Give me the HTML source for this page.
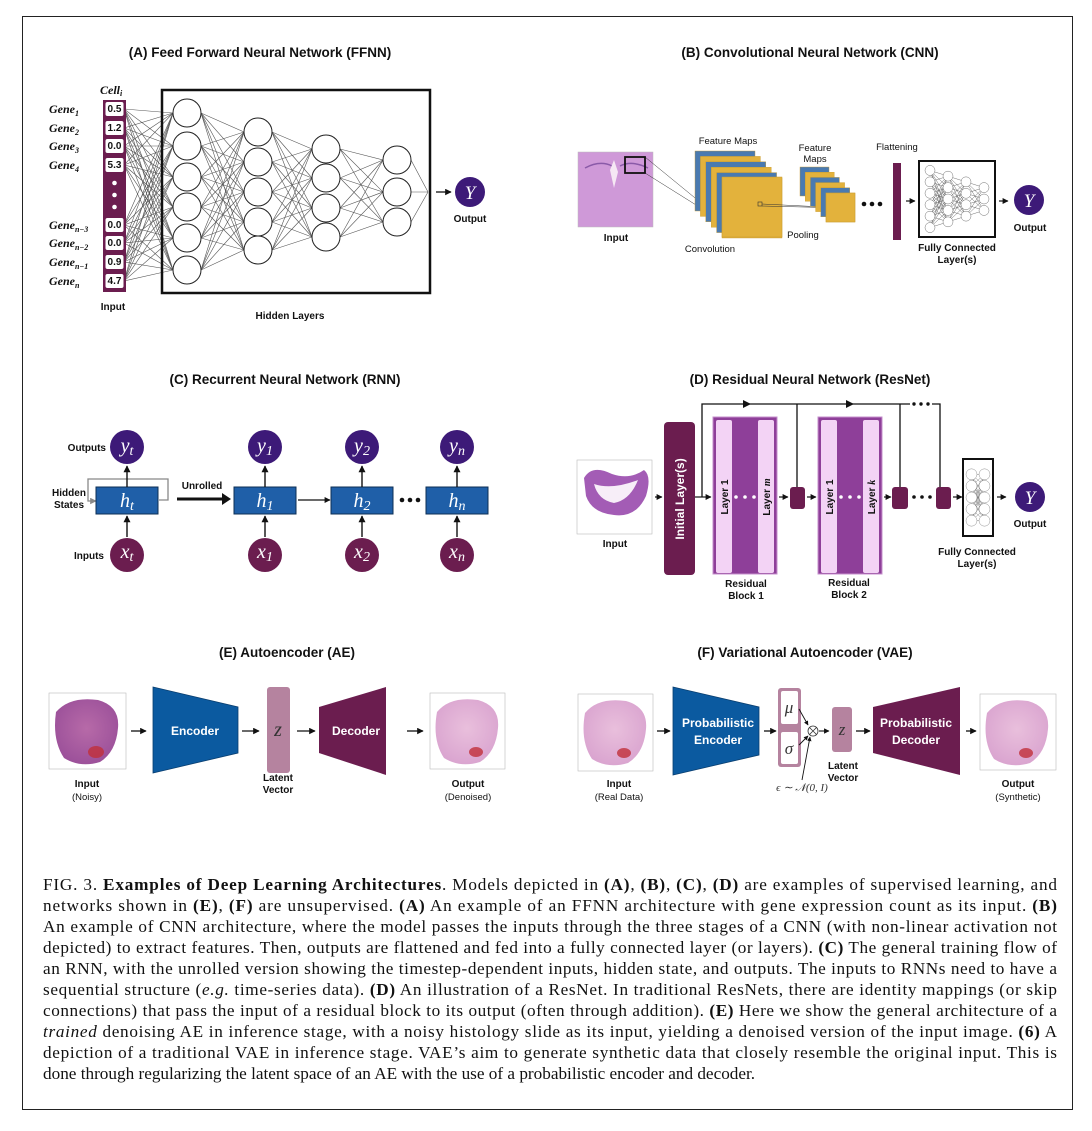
<!DOCTYPE html>
<html><head><meta charset="utf-8"><style>
html,body{margin:0;padding:0;background:#fff}
svg{display:block}
.t{font-family:"Liberation Sans",sans-serif;font-weight:bold;font-size:13.5px;fill:#111}
.l{font-family:"Liberation Sans",sans-serif;font-weight:bold;font-size:10px;fill:#111}
.n{font-family:"Liberation Sans",sans-serif;font-size:9.5px;fill:#111}
.g{font-family:"Liberation Serif",serif;font-weight:bold;font-style:italic;font-size:12px;fill:#111}
.m{font-family:"Liberation Serif",serif;font-style:italic;fill:#fff}
.c{font-family:"Liberation Serif",serif;font-size:17.2px;fill:#111}
.w{font-family:"Liberation Sans",sans-serif;font-weight:bold;font-size:12px;fill:#fff}
</style></head><body>
<svg id="s" width="1092" height="1131" viewBox="0 0 1092 1131" xmlns="http://www.w3.org/2000/svg">
<defs>
<marker id="ar" viewBox="0 0 10 10" refX="9" refY="5" markerWidth="5" markerHeight="5" orient="auto"><path d="M0,0L10,5L0,10z" fill="#111"/></marker>
<marker id="ag" viewBox="0 0 10 10" refX="9" refY="5" markerWidth="5" markerHeight="5" orient="auto"><path d="M0,0L10,5L0,10z" fill="#888"/></marker>
<radialGradient id="hist" cx="50%" cy="45%" r="60%"><stop offset="0" stop-color="#e9bfdc"/><stop offset="1" stop-color="#d9a3cf"/></radialGradient>
<radialGradient id="noisy" cx="50%" cy="45%" r="60%"><stop offset="0" stop-color="#b76aa8"/><stop offset="1" stop-color="#9a4f99"/></radialGradient>
</defs>
<rect x="22.5" y="16.5" width="1050" height="1093" fill="none" stroke="#222" stroke-width="1"/>

<!-- Panel A -->
<text class="t" x="260" y="57" text-anchor="middle">(A) Feed Forward Neural Network (FFNN)</text>
<g id="ffnnLines" stroke="#555" stroke-width="0.6"></g>
<rect x="162" y="90" width="268" height="203" fill="none" stroke="#111" stroke-width="2.5"/>
<g id="ffnnNodes" fill="#fff" stroke="#222" stroke-width="1"></g>
<text class="g" x="100" y="94" font-size="12">Cell<tspan font-size="8" dy="2">i</tspan></text>
<rect x="103" y="100" width="23" height="192" fill="#6b1d4f"/>
<g id="vals"></g>
<g id="genes"></g>
<line x1="436" y1="192" x2="451" y2="192" stroke="#111" stroke-width="1.3" marker-end="url(#ar)"/>
<circle cx="470" cy="192" r="15" fill="#3d1a78"/>
<text class="m" x="470" y="199" font-size="19" text-anchor="middle">Y</text>
<text class="l" x="470" y="222" text-anchor="middle">Output</text>
<text class="l" x="113" y="310" text-anchor="middle">Input</text>
<text class="l" x="290" y="319" text-anchor="middle">Hidden Layers</text>

<!-- Panel B -->
<text class="t" x="810" y="57" text-anchor="middle">(B) Convolutional Neural Network (CNN)</text>
<rect x="578" y="152" width="75" height="75" fill="#cf99d8" stroke="#bbb" stroke-width="0.5"/>
<path d="M585,168 Q600,160 612,166 M620,166 Q632,160 648,168" stroke="#8a5aa8" fill="none" stroke-width="1.5"/>
<path d="M610,170 L614,160 L618,172 L614,188z" fill="#f6e8f4"/>
<line x1="645" y1="157" x2="722" y2="220" stroke="#333" stroke-width="0.5"/>
<line x1="645" y1="173" x2="728" y2="225" stroke="#333" stroke-width="0.5"/>
<g id="fm1"></g>
<rect x="625" y="157" width="20" height="16" fill="none" stroke="#111" stroke-width="1.8"/>
<rect x="758" y="202" width="4" height="4" fill="none" stroke="#333" stroke-width="0.6"/>
<line x1="762" y1="204" x2="845" y2="208" stroke="#333" stroke-width="0.5"/>
<line x1="762" y1="206" x2="845" y2="208" stroke="#333" stroke-width="0.5"/>
<g id="fm2"></g>
<text class="n" x="728" y="144" text-anchor="middle">Feature Maps</text>
<text class="n" x="815" y="151" text-anchor="middle">Feature</text>
<text class="n" x="815" y="162" text-anchor="middle">Maps</text>
<text class="n" x="710" y="252" text-anchor="middle">Convolution</text>
<text class="n" x="803" y="238" text-anchor="middle">Pooling</text>
<text class="n" x="897" y="150" text-anchor="middle">Flattening</text>
<circle cx="864" cy="204" r="2.3" fill="#111"/><circle cx="872" cy="204" r="2.3" fill="#111"/><circle cx="880" cy="204" r="2.3" fill="#111"/>
<rect x="893" y="163" width="8" height="77" fill="#6b1d4f"/>
<line x1="906" y1="201" x2="915" y2="201" stroke="#111" stroke-width="1.2" marker-end="url(#ar)"/>
<g id="fcB" stroke="#333" stroke-width="0.35" fill="#fff"></g>
<rect x="919" y="161" width="76" height="76" fill="none" stroke="#111" stroke-width="2"/>
<line x1="999" y1="201" x2="1008" y2="201" stroke="#111" stroke-width="1.2" marker-end="url(#ar)"/>
<circle cx="1029" cy="200" r="15" fill="#3d1a78"/>
<text class="m" x="1029" y="207" font-size="19" text-anchor="middle">Y</text>
<text class="l" x="1030" y="231" text-anchor="middle">Output</text>
<text class="l" x="616" y="241" text-anchor="middle">Input</text>
<text class="l" x="957" y="251" text-anchor="middle">Fully Connected</text>
<text class="l" x="957" y="263" text-anchor="middle">Layer(s)</text>

<!-- Panel C -->
<text class="t" x="285" y="384" text-anchor="middle">(C) Recurrent Neural Network (RNN)</text>
<text class="l" x="106" y="451" text-anchor="end">Outputs</text>
<text class="l" x="69" y="496" text-anchor="middle">Hidden</text>
<text class="l" x="69" y="508" text-anchor="middle">States</text>
<text class="l" x="104" y="559" text-anchor="end">Inputs</text>
<path d="M159,500 L168,500 L168,479 L88,479 L88,501 L96,501" fill="none" stroke="#888" stroke-width="1.3" marker-end="url(#ag)"/>
<line x1="177" y1="499" x2="224" y2="499" stroke="#111" stroke-width="3"/>
<path d="M222,493 L231,499 L222,505z" fill="#111"/>
<text class="l" x="202" y="489" text-anchor="middle">Unrolled</text>
<g id="rnn"></g>
<line x1="298" y1="500" x2="330" y2="500" stroke="#111" stroke-width="1.2" marker-end="url(#ar)"/>
<circle cx="402" cy="500" r="2.3" fill="#111"/><circle cx="410" cy="500" r="2.3" fill="#111"/><circle cx="418" cy="500" r="2.3" fill="#111"/>

<!-- Panel D -->
<text class="t" x="810" y="384" text-anchor="middle">(D) Residual Neural Network (ResNet)</text>
<rect x="577" y="460" width="75" height="74" fill="#fff" stroke="#bbb" stroke-width="0.6"/>
<path d="M584,478 Q592,464 612,474 Q630,480 644,470 Q652,476 646,496 Q636,518 614,515 Q592,513 586,496z" fill="#a35cb5"/>
<path d="M594,484 Q612,490 638,480 Q630,500 614,503 Q598,500 594,484z" fill="#f7eef8"/>
<text class="l" x="615" y="547" text-anchor="middle">Input</text>
<line x1="655" y1="497" x2="662" y2="497" stroke="#111" stroke-width="1.2" marker-end="url(#ar)"/>
<rect x="664" y="422" width="31" height="153" rx="4" fill="#6b1d4f"/>
<text class="w" transform="translate(684,499) rotate(-90)" text-anchor="middle" font-size="11">Initial Layer(s)</text>
<path d="M695,497 L711,497" stroke="#111" stroke-width="1.2" marker-end="url(#ar)"/>
<path d="M702,497 L702,404 L910,404 M932,404 L940,404 L940,487" fill="none" stroke="#111" stroke-width="1.3"/>
<path d="M743,400 L751,404 L743,408z" fill="#111"/><path d="M846,400 L854,404 L846,408z" fill="#111"/>
<circle cx="914" cy="404" r="1.7" fill="#111"/><circle cx="921" cy="404" r="1.7" fill="#111"/><circle cx="928" cy="404" r="1.7" fill="#111"/>
<line x1="797" y1="404" x2="797" y2="487" stroke="#111" stroke-width="1.3"/>
<line x1="900" y1="404" x2="900" y2="487" stroke="#111" stroke-width="1.3"/>
<rect x="713" y="417" width="64" height="157" fill="#8e3f99" stroke="#c58fcc" stroke-width="1"/>
<rect x="716" y="420" width="16" height="153" rx="2" fill="#f3d3f5"/><rect x="758" y="420" width="16" height="153" rx="2" fill="#f3d3f5"/>
<text class="l" transform="translate(728,497) rotate(-90)" text-anchor="middle" font-size="10">Layer 1</text>
<text class="l" transform="translate(770,497) rotate(-90)" text-anchor="middle" font-size="10">Layer <tspan font-family="Liberation Serif" font-style="italic">m</tspan></text>
<circle cx="736" cy="497" r="1.8" fill="#fff"/><circle cx="745" cy="497" r="1.8" fill="#fff"/><circle cx="754" cy="497" r="1.8" fill="#fff"/>
<line x1="779" y1="497" x2="788" y2="497" stroke="#111" stroke-width="1.2" marker-end="url(#ar)"/>
<rect x="790" y="487" width="15" height="22" rx="3" fill="#6b1d4f"/>
<line x1="807" y1="497" x2="816" y2="497" stroke="#111" stroke-width="1.2" marker-end="url(#ar)"/>
<rect x="818" y="417" width="64" height="157" fill="#8e3f99" stroke="#c58fcc" stroke-width="1"/>
<rect x="821" y="420" width="16" height="153" rx="2" fill="#f3d3f5"/><rect x="863" y="420" width="16" height="153" rx="2" fill="#f3d3f5"/>
<text class="l" transform="translate(833,497) rotate(-90)" text-anchor="middle" font-size="10">Layer 1</text>
<text class="l" transform="translate(875,497) rotate(-90)" text-anchor="middle" font-size="10">Layer <tspan font-family="Liberation Serif" font-style="italic">k</tspan></text>
<circle cx="841" cy="497" r="1.8" fill="#fff"/><circle cx="850" cy="497" r="1.8" fill="#fff"/><circle cx="859" cy="497" r="1.8" fill="#fff"/>
<line x1="884" y1="497" x2="891" y2="497" stroke="#111" stroke-width="1.2" marker-end="url(#ar)"/>
<rect x="892" y="487" width="16" height="22" rx="3" fill="#6b1d4f"/>
<circle cx="914" cy="497" r="1.8" fill="#111"/><circle cx="922" cy="497" r="1.8" fill="#111"/><circle cx="930" cy="497" r="1.8" fill="#111"/>
<rect x="936" y="487" width="15" height="22" rx="3" fill="#6b1d4f"/>
<line x1="953" y1="497" x2="962" y2="497" stroke="#111" stroke-width="1.2" marker-end="url(#ar)"/>
<g id="fcD" stroke="#444" stroke-width="0.3" fill="#fff"></g>
<rect x="963" y="459" width="30" height="77" fill="none" stroke="#111" stroke-width="2"/>
<line x1="997" y1="497" x2="1006" y2="497" stroke="#111" stroke-width="1.2" marker-end="url(#ar)"/>
<circle cx="1030" cy="497" r="15" fill="#3d1a78"/>
<text class="m" x="1030" y="504" font-size="19" text-anchor="middle">Y</text>
<text class="l" x="1030" y="527" text-anchor="middle">Output</text>
<text class="l" x="977" y="555" text-anchor="middle">Fully Connected</text>
<text class="l" x="977" y="567" text-anchor="middle">Layer(s)</text>
<text class="l" x="746" y="587" text-anchor="middle">Residual</text>
<text class="l" x="746" y="599" text-anchor="middle">Block 1</text>
<text class="l" x="849" y="586" text-anchor="middle">Residual</text>
<text class="l" x="849" y="598" text-anchor="middle">Block 2</text>

<!-- Panel E -->
<text class="t" x="287" y="657" text-anchor="middle">(E) Autoencoder (AE)</text>
<rect x="49" y="693" width="77" height="76" fill="#fff" stroke="#bbb" stroke-width="0.6"/>
<path d="M56,712 Q70,696 98,700 Q120,706 118,728 Q116,752 100,762 Q80,768 64,758 Q52,740 56,712z" fill="url(#noisy)"/>
<ellipse cx="96" cy="752" rx="8" ry="6" fill="#c0303a" opacity="0.8"/>
<line x1="131" y1="731" x2="146" y2="731" stroke="#111" stroke-width="1.3" marker-end="url(#ar)"/>
<path d="M153,687 L238,707 L238,753 L153,773z" fill="#0b5aa0" stroke="#0a3f70" stroke-width="0.8"/>
<text class="w" x="195" y="735" text-anchor="middle">Encoder</text>
<line x1="242" y1="731" x2="259" y2="731" stroke="#111" stroke-width="1.3" marker-end="url(#ar)"/>
<rect x="267" y="687" width="23" height="86" rx="3" fill="#b5839f"/>
<text x="278" y="736" font-family="Liberation Serif" font-style="italic" font-size="20" fill="#333" text-anchor="middle">z</text>
<text class="l" x="278" y="781" text-anchor="middle">Latent</text>
<text class="l" x="278" y="793" text-anchor="middle">Vector</text>
<line x1="297" y1="731" x2="315" y2="731" stroke="#111" stroke-width="1.3" marker-end="url(#ar)"/>
<path d="M319,707 L386,687 L386,775 L319,753z" fill="#6b1d4f"/>
<text class="w" x="356" y="735" text-anchor="middle">Decoder</text>
<line x1="407" y1="731" x2="423" y2="731" stroke="#111" stroke-width="1.3" marker-end="url(#ar)"/>
<rect x="430" y="693" width="75" height="76" fill="#fff" stroke="#bbb" stroke-width="0.6"/>
<path d="M437,712 Q450,696 478,700 Q500,706 498,728 Q496,752 480,762 Q460,768 444,758 Q432,740 437,712z" fill="url(#hist)"/>
<ellipse cx="476" cy="752" rx="7" ry="5" fill="#c0303a" opacity="0.8"/>
<text class="l" x="87" y="787" text-anchor="middle">Input</text>
<text class="n" x="87" y="800" text-anchor="middle">(Noisy)</text>
<text class="l" x="468" y="787" text-anchor="middle">Output</text>
<text class="n" x="468" y="800" text-anchor="middle">(Denoised)</text>

<!-- Panel F -->
<text class="t" x="805" y="657" text-anchor="middle">(F) Variational Autoencoder (VAE)</text>
<rect x="578" y="694" width="75" height="77" fill="#fff" stroke="#bbb" stroke-width="0.6"/>
<path d="M585,713 Q598,697 626,701 Q648,707 646,729 Q644,753 628,763 Q608,769 592,759 Q580,741 585,713z" fill="url(#hist)"/>
<ellipse cx="624" cy="753" rx="7" ry="5" fill="#c0303a" opacity="0.8"/>
<line x1="657" y1="731" x2="670" y2="731" stroke="#111" stroke-width="1.3" marker-end="url(#ar)"/>
<path d="M673,687 L759,707 L759,755 L673,775z" fill="#0b5aa0" stroke="#0a3f70" stroke-width="0.8"/>
<text class="w" x="718" y="727" text-anchor="middle">Probabilistic</text>
<text class="w" x="718" y="744" text-anchor="middle">Encoder</text>
<line x1="764" y1="731" x2="776" y2="731" stroke="#111" stroke-width="1.3" marker-end="url(#ar)"/>
<rect x="778" y="688" width="23" height="79" rx="3" fill="#b5839f"/>
<rect x="781" y="691" width="17" height="33" rx="2" fill="#fff"/>
<rect x="781" y="732" width="17" height="32" rx="2" fill="#fff"/>
<text x="789" y="713" font-family="Liberation Serif" font-style="italic" font-size="17" fill="#333" text-anchor="middle">μ</text>
<text x="789" y="754" font-family="Liberation Serif" font-style="italic" font-size="17" fill="#333" text-anchor="middle">σ</text>
<line x1="799" y1="709" x2="808" y2="725" stroke="#111" stroke-width="0.9" marker-end="url(#ar)"/>
<line x1="799" y1="745" x2="808" y2="736" stroke="#111" stroke-width="0.9" marker-end="url(#ar)"/>
<line x1="802" y1="780" x2="810" y2="737" stroke="#111" stroke-width="0.9" marker-end="url(#ar)"/>
<circle cx="813" cy="731" r="5" fill="#fff" stroke="#333" stroke-width="0.8"/>
<path d="M809.5,727.5L816.5,734.5M816.5,727.5L809.5,734.5" stroke="#333" stroke-width="0.8"/>
<line x1="819" y1="731" x2="829" y2="731" stroke="#111" stroke-width="1.1" marker-end="url(#ar)"/>
<rect x="832" y="707" width="20" height="45" rx="3" fill="#b5839f"/>
<text x="842" y="735" font-family="Liberation Serif" font-style="italic" font-size="17" fill="#333" text-anchor="middle">z</text>
<text x="802" y="791" font-family="Liberation Serif" font-style="italic" font-size="11" fill="#333" text-anchor="middle">ϵ ∼ 𝒩(0, I)</text>
<text class="l" x="843" y="769" text-anchor="middle">Latent</text>
<text class="l" x="843" y="781" text-anchor="middle">Vector</text>
<line x1="856" y1="731" x2="870" y2="731" stroke="#111" stroke-width="1.3" marker-end="url(#ar)"/>
<path d="M873,707 L960,687 L960,775 L873,753z" fill="#6b1d4f"/>
<text class="w" x="916" y="727" text-anchor="middle">Probabilistic</text>
<text class="w" x="916" y="744" text-anchor="middle">Decoder</text>
<line x1="966" y1="731" x2="976" y2="731" stroke="#111" stroke-width="1.3" marker-end="url(#ar)"/>
<rect x="980" y="694" width="76" height="76" fill="#fff" stroke="#bbb" stroke-width="0.6"/>
<path d="M987,713 Q1000,697 1028,701 Q1050,707 1048,729 Q1046,753 1030,763 Q1010,769 994,759 Q982,741 987,713z" fill="url(#hist)"/>
<ellipse cx="1026" cy="753" rx="7" ry="5" fill="#c0303a" opacity="0.8"/>
<text class="l" x="619" y="787" text-anchor="middle">Input</text>
<text class="n" x="619" y="800" text-anchor="middle">(Real Data)</text>
<text class="l" x="1018" y="787" text-anchor="middle">Output</text>
<text class="n" x="1018" y="800" text-anchor="middle">(Synthetic)</text>

<!-- Caption -->
<g class="c">
<text x="43" y="890" textLength="1014" lengthAdjust="spacing">FIG. 3.  <tspan font-weight="bold">Examples of Deep Learning Architectures</tspan>.  Models depicted in <tspan font-weight="bold">(A)</tspan>, <tspan font-weight="bold">(B)</tspan>, <tspan font-weight="bold">(C)</tspan>, <tspan font-weight="bold">(D)</tspan> are examples of supervised learning, and</text>
<text x="43" y="911" textLength="1014" lengthAdjust="spacing">networks shown in <tspan font-weight="bold">(E)</tspan>, <tspan font-weight="bold">(F)</tspan> are unsupervised.  <tspan font-weight="bold">(A)</tspan> An example of an FFNN architecture with gene expression count as its input.  <tspan font-weight="bold">(B)</tspan></text>
<text x="43" y="932" textLength="1014" lengthAdjust="spacing">An example of CNN architecture, where the model passes the inputs through the three stages of a CNN (with non-linear activation not</text>
<text x="43" y="953" textLength="1014" lengthAdjust="spacing">depicted) to extract features. Then, outputs are flattened and fed into a fully connected layer (or layers). <tspan font-weight="bold">(C)</tspan> The general training flow of</text>
<text x="43" y="974" textLength="1014" lengthAdjust="spacing">an RNN, with the unrolled version showing the timestep-dependent inputs, hidden state, and outputs. The inputs to RNNs need to have a</text>
<text x="43" y="995" textLength="1014" lengthAdjust="spacing">sequential structure (<tspan font-style="italic">e.g.</tspan> time-series data). <tspan font-weight="bold">(D)</tspan> An illustration of a ResNet. In traditional ResNets, there are identity mappings (or skip</text>
<text x="43" y="1016" textLength="1014" lengthAdjust="spacing">connections) that pass the input of a residual block to its output (often through addition). <tspan font-weight="bold">(E)</tspan> Here we show the general architecture of a</text>
<text x="43" y="1037" textLength="1014" lengthAdjust="spacing"><tspan font-style="italic">trained</tspan> denoising AE in inference stage, with a noisy histology slide as its input, yielding a denoised version of the input image. <tspan font-weight="bold">(6)</tspan> A</text>
<text x="43" y="1058" textLength="1014" lengthAdjust="spacing">depiction of a traditional VAE in inference stage. VAE’s aim to generate synthetic data that closely resemble the original input. This is</text>
<text x="43" y="1079">done through regularizing the latent space of an AE with the use of a probabilistic encoder and decoder.</text>
</g>
</svg>
<script>
(function(){
var NS="http://www.w3.org/2000/svg";
function el(p,tag,a,txt){var e=document.createElementNS(NS,tag);for(var k in a)e.setAttribute(k,a[k]);if(txt!=null)e.textContent=txt;document.getElementById(p).appendChild(e);return e;}
var inY=[109,128,146,165,225,243,262,281];
var L=[{x:187,y:[113,146,177,207,238,270]},{x:258,y:[132,162,192,222,250]},{x:326,y:[149,178,208,237]},{x:397,y:[160,192,222]}];
var r=14;
inY.forEach(function(y){L[0].y.forEach(function(y2){el("ffnnLines","line",{x1:124,y1:y,x2:L[0].x-r,y2:y2});});});
for(var i=0;i<3;i++){L[i].y.forEach(function(a){L[i+1].y.forEach(function(b){el("ffnnLines","line",{x1:L[i].x+r,y1:a,x2:L[i+1].x-r,y2:b});});});}
L[3].y.forEach(function(a){el("ffnnLines","line",{x1:L[3].x+r,y1:a,x2:428,y2:192});});
L.forEach(function(l){l.y.forEach(function(y){el("ffnnNodes","circle",{cx:l.x,cy:y,r:r});});});
var vals=["0.5","1.2","0.0","5.3","0.0","0.0","0.9","4.7"];
inY.forEach(function(y,i){el("vals","rect",{x:105.5,y:y-7,width:18,height:14,rx:2,fill:"#fff"});el("vals","text",{x:114.5,y:y+3,"text-anchor":"middle","class":"l","font-size":"8"},vals[i]);});
[183,195,207].forEach(function(y){el("vals","circle",{cx:114.5,cy:y,r:2.3,fill:"#fff"});});
var subs=["1","2","3","4","n−3","n−2","n−1","n"];
inY.forEach(function(y,i){var t=el("genes","text",{x:49,y:y+4,"class":"g"},"Gene");var s=document.createElementNS(NS,"tspan");s.setAttribute("font-size","8");s.setAttribute("dy","3");s.textContent=subs[i];t.appendChild(s);});
var cols=["#4a7ab0","#e3b23c"];
for(var k=0;k<6;k++){var d=k*5.4;el("fm1","rect",{x:695+d,y:151+d,width:60,height:60,fill:cols[k%2],stroke:"#c99a2e","stroke-width":0.4});}
el("fm1","rect",{x:722,y:177,width:60,height:60,fill:"#e3b23c",stroke:"#c99a2e","stroke-width":0.5});
for(var k=0;k<6;k++){var d=k*5.2;el("fm2","rect",{x:800+d,y:167+d,width:29,height:29,fill:cols[k%2],stroke:"#c99a2e","stroke-width":0.4});}
el("fm2","rect",{x:826,y:193,width:29,height:29,fill:"#e3b23c",stroke:"#c99a2e","stroke-width":0.5});
function fc(g,x0,w,y0,h,layers,rr){var n=layers.length;var xs=[];for(var i=0;i<n;i++)xs.push(x0+w*(i+0.5)/n);var ys=layers.map(function(c){var a=[];var sp=h/6.3;for(var j=0;j<c;j++)a.push(y0+h/2+(j-(c-1)/2)*sp);return a;});
for(var i=0;i<n-1;i++)ys[i].forEach(function(a){ys[i+1].forEach(function(b){el(g,"line",{x1:xs[i],y1:a,x2:xs[i+1],y2:b});});});
ys.forEach(function(a,i){a.forEach(function(y){el(g,"circle",{cx:xs[i],cy:y,r:rr});});});}
fc("fcB",921,72,163,72,[6,5,4,3],5);
fc("fcD",965,26,461,73,[5,5],5.5);
var cx=[127,265,362,457],hs=["t","1","2","n"];
cx.forEach(function(x,i){
el("rnn","rect",{x:x-31,y:487,width:62,height:27,fill:"#1f5fa8",stroke:"#0e2f55","stroke-width":1});
var t=el("rnn","text",{x:x,y:507,"text-anchor":"middle","class":"m","font-size":"20"},"h");var s=document.createElementNS(NS,"tspan");s.setAttribute("font-size","14");s.setAttribute("dy","3");s.textContent=hs[i];t.appendChild(s);
el("rnn","circle",{cx:x,cy:447,r:17,fill:"#3d1a78"});
t=el("rnn","text",{x:x,y:452,"text-anchor":"middle","class":"m","font-size":"20"},"y");s=document.createElementNS(NS,"tspan");s.setAttribute("font-size","14");s.setAttribute("dy","3");s.textContent=hs[i];t.appendChild(s);
el("rnn","circle",{cx:x,cy:555,r:17,fill:"#6b1d4f"});
t=el("rnn","text",{x:x,y:558,"text-anchor":"middle","class":"m","font-size":"20"},"x");s=document.createElementNS(NS,"tspan");s.setAttribute("font-size","14");s.setAttribute("dy","3");s.textContent=hs[i];t.appendChild(s);
el("rnn","line",{x1:x,y1:537,x2:x,y2:516,stroke:"#111","stroke-width":1.4,"marker-end":"url(#ar)"});
el("rnn","line",{x1:x,y1:487,x2:x,y2:466,stroke:"#111","stroke-width":1.4,"marker-end":"url(#ar)"});
});
})();
</script>
</body></html>
